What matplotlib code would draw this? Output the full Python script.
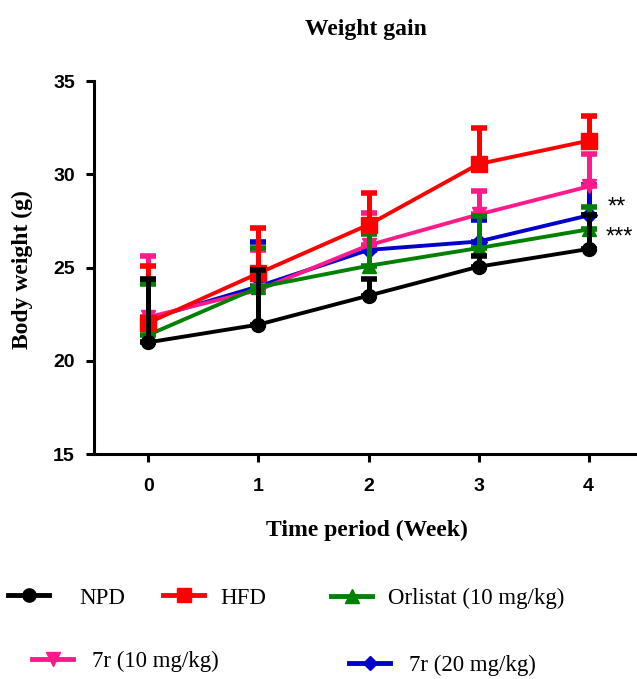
import matplotlib
matplotlib.use("Agg")
import matplotlib.pyplot as plt
from matplotlib.lines import Line2D
import numpy as np

weeks = [0, 1, 2, 3, 4]
xticks = [0, 1, 2, 3, 4]
yticks = [15, 20, 25, 30, 35]

npd_mean = [21.0, 21.95, 23.5, 25.05, 26.0]
npd_err = [3.4, 2.9, 0.9, 0.55, 1.8]
hfd_mean = [22.05, 24.7, 27.3, 30.55, 31.8]
hfd_err = [3.05, 2.4, 1.7, 1.95, 1.3]
orl_mean = [21.4, 23.95, 25.1, 26.05, 27.05]
orl_err = [2.7, 2.1, 1.7, 1.7, 1.2]
r10_mean = [22.35, 23.8, 26.2, 27.85, 29.35]
r10_err = [3.25, 2.15, 1.75, 1.25, 1.75]
r20_mean = [22.25, 24.0, 25.95, 26.4, 27.8]
r20_err = [2.05, 2.35, 0.95, 1.15, 1.65]

labels = ["NPD", "HFD", "Orlistat (10 mg/kg)", "7r (10 mg/kg)", "7r (20 mg/kg)"]
colors = ["#000000", "#ff0000", "#008000", "#ff1a8c", "#0000cc"]
markers = ["o", "s", "^", "v", "D"]
msizes = [10, 11, 10, 10, 8]
zorders = [10, 8, 6, 4, 2]

series = [(npd_mean, npd_err), (hfd_mean, hfd_err), (orl_mean, orl_err),
          (r10_mean, r10_err), (r20_mean, r20_err)]

W, H = 637, 679
fig = plt.figure(figsize=(W / 100, H / 100), dpi=100)
ax = fig.add_axes([94 / W, 1 - 454.3 / H, (W - 94) / W, (454.3 - 81) / H])

for (m, e), c, mk, ms, z in zip(series, colors, markers, msizes, zorders):
    m = np.array(m)
    e = np.array(e)
    ax.errorbar(weeks, m, yerr=[np.zeros_like(e), e], color=c, ecolor=c,
                elinewidth=3.6, capsize=5.8, capthick=4.0, lw=2.8,
                marker=mk, ms=ms, mec=c, mfc=c, zorder=z, clip_on=False)

ax.set_xlim(-0.495, 4.44)
ax.set_ylim(15, 35)
ax.set_xticks(xticks)
ax.set_yticks(yticks)
ax.spines["top"].set_visible(False)
ax.spines["right"].set_visible(False)
for s in ["left", "bottom"]:
    ax.spines[s].set_linewidth(2.2)
ax.tick_params(axis="both", direction="out", length=5.8, width=2.2)
ax.tick_params(axis="y", pad=8)
ax.tick_params(axis="x", pad=11)
for lab in ax.get_xticklabels() + ax.get_yticklabels():
    lab.set_fontfamily("Liberation Sans")
    lab.set_fontweight("bold")
    lab.set_fontsize(14)

# significance marks
ax.text(4.255, 28.2, "**", ha="center", va="center", fontsize=17,
        family="Liberation Sans")
ax.text(4.28, 26.6, "***", ha="center", va="center", fontsize=17,
        family="Liberation Sans")

fig.text(366 / W, 1 - 30 / H, "Weight gain", ha="center", va="center",
         fontsize=17, fontweight="bold", family="Liberation Serif")
fig.text(367 / W, 1 - 530 / H, "Time period (Week)", ha="center", va="center",
         fontsize=17, fontweight="bold", family="Liberation Serif")
fig.text(22 / W, 1 - 270 / H, "Body weight (g)", ha="center", va="center",
         rotation=90, fontsize=17, fontweight="bold", family="Liberation Serif")

# legend, one entry per legend to match placement
leg_pos = [(8, 598, 1.3), (163, 598, 0.7), (331, 598, 0.7),
           (32, 661, 0.8), (349, 665, 0.8)]
for lab, c, mk, ms, (px, py, pad) in zip(labels, colors, markers, msizes, leg_pos):
    h = Line2D([], [], color=c, lw=3.5, marker=mk, ms=ms * 0.95, mfc=c, mec=c)
    lg = fig.legend(handles=[h], labels=[lab], loc="center left",
                    bbox_to_anchor=(px / W, 1 - py / H), frameon=False,
                    borderpad=0, borderaxespad=0, handlelength=1.8,
                    handletextpad=pad,
                    prop={"family": "Liberation Serif", "size": 16.5})

fig.savefig("out.png", dpi=100)
